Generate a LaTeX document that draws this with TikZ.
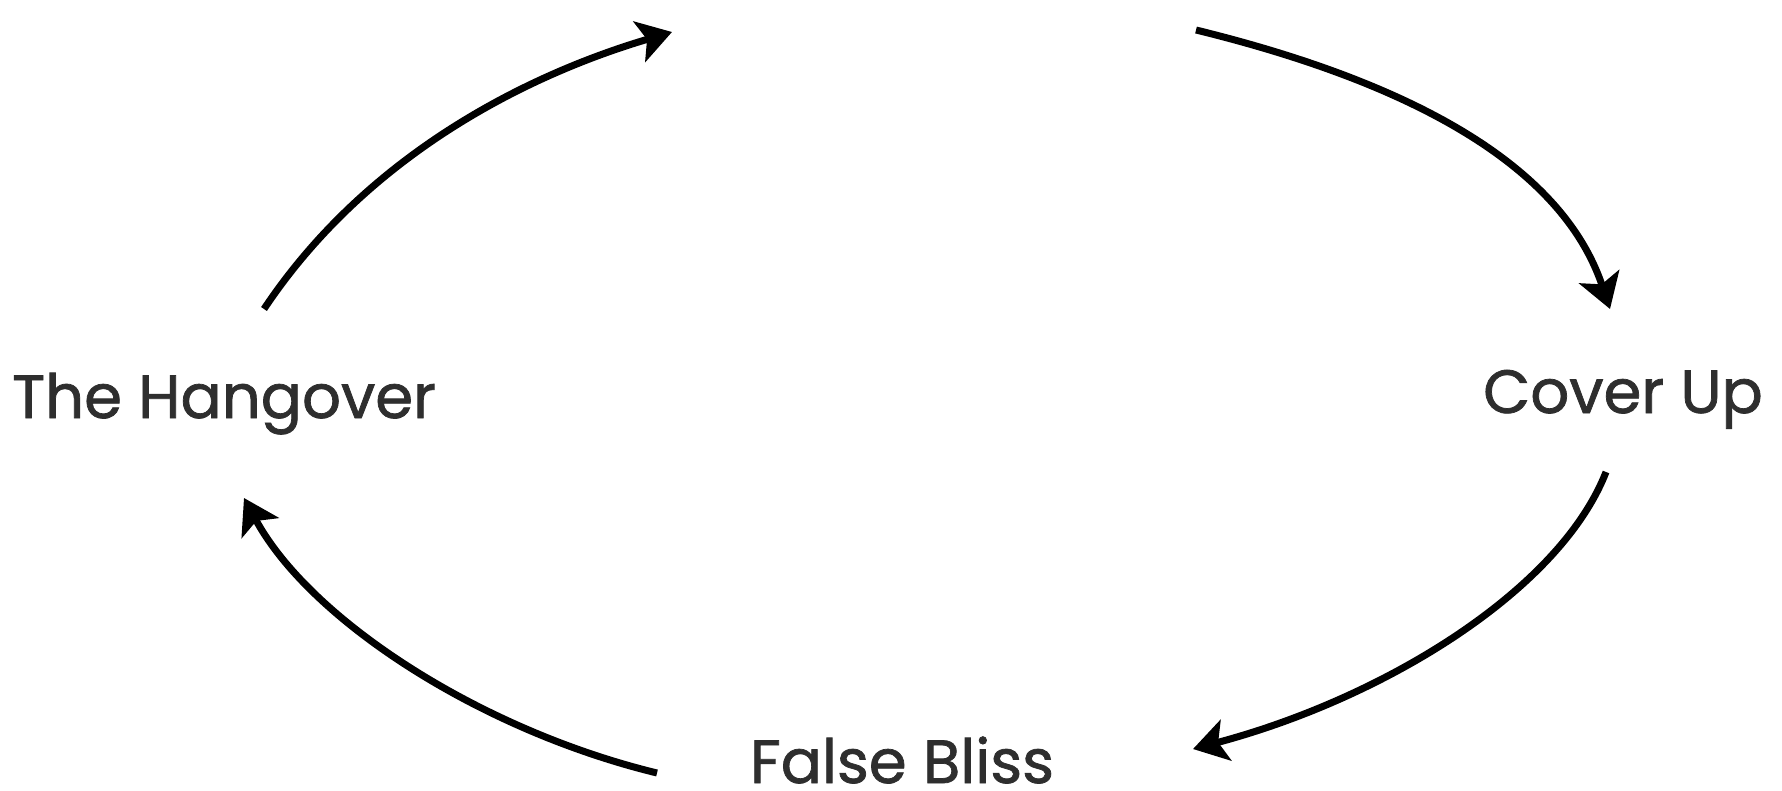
\documentclass[tikz,border=0pt]{standalone}
\usepackage{fontspec}
\setmainfont{Poppins}[FakeBold=1.2]
\usetikzlibrary{arrows.meta}
\definecolor{txt}{HTML}{2E2E2E}
\begin{document}
\begin{tikzpicture}[x=0.5pt,y=-0.5pt,
  lbl/.style={font=\fontsize{30.5}{34}\selectfont, text=txt, inner sep=0pt, anchor=base},
  cyc/.style={line width=3.5pt, -{Stealth[length=17pt,width=21pt,inset=4pt]}}]
\useasboundingbox (0,0) rectangle (1782,791);
\fill[white] (0,0) rectangle (1782,791);
\node[lbl] (hang) at (224,418) {The Hangover};
\node[lbl] (cover) at (1623,413) {Cover Up};
\node[lbl] (bliss) at (902,783) {False Bliss};
\coordinate (a1s) at (264,309);
\coordinate (top1) at (672,32);
\coordinate (top2) at (1196,30);
\coordinate (a2e) at (1610,309);
\coordinate (a3s) at (1606,472);
\coordinate (a3e) at (1193,749);
\coordinate (a4s) at (657,773);
\coordinate (a4e) at (244,498);
\draw[cyc] (a1s) .. controls (364,159) and (520,77) .. (top1);
\draw[cyc] (top2) .. controls (1400,80) and (1560,160) .. (a2e);
\draw[cyc] (a3s) .. controls (1560,590) and (1385,698) .. (a3e);
\draw[cyc] (a4s) .. controls (480,730) and (310,620) .. (a4e);
\end{tikzpicture}
\end{document}
